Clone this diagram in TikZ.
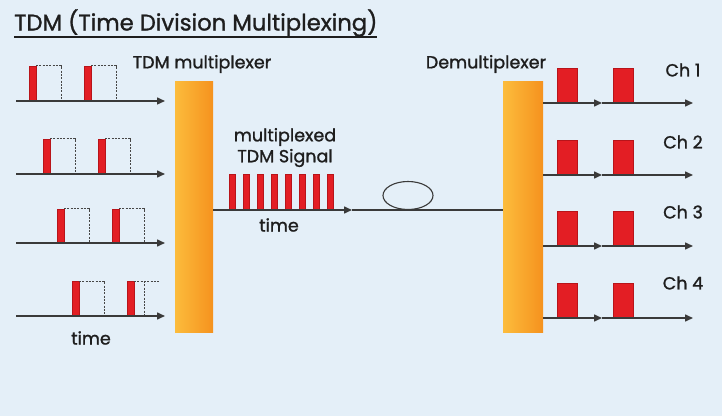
\documentclass[tikz,border=0pt]{standalone}
\usepackage{fontspec}
\setmainfont{Poppins}
\newfontfamily\lblfont[FakeBold=1.2]{Poppins}
\usetikzlibrary{arrows.meta,shapes.geometric}
\definecolor{bg}{HTML}{E4EFF8}
\definecolor{pulsered}{HTML}{E31E24}
\definecolor{pulseedge}{HTML}{B8141A}
\definecolor{barL}{HTML}{FCBC3C}
\definecolor{barR}{HTML}{F5921E}
\definecolor{axisgray}{HTML}{3A3A3A}
\definecolor{txt}{HTML}{1E1E1E}
\tikzset{
  axis/.style={draw=axisgray, line width=1.5pt, -{Triangle[length=8pt,width=7pt]}},
  plain/.style={draw=axisgray, line width=1.3pt},
  redpulse/.style={fill=pulsered, draw=pulseedge, line width=0.4pt},
  slot/.style={draw=gray!55!black, line width=1pt, dash pattern=on 2pt off 1.3pt},
  muxbar/.style={rectangle, inner sep=0pt, left color=barL, right color=barR, draw=none},
  lbl/.style={inner sep=0pt, text=txt, font=\lblfont\fontsize{17.5}{20}\selectfont},
}
\begin{document}
\begin{tikzpicture}[x=1pt,y=-1pt]
\useasboundingbox (0,0) rectangle (727,419);
\fill[white] (0,0) rectangle (727,419);
\fill[bg] (0,0) rectangle (722,416);

% title
\node[anchor=west, inner sep=0pt, text=txt, font=\lblfont\fontsize{22.7}{26}\selectfont] (title) at (14,23) {TDM (Time Division Multiplexing)};
\draw[txt, line width=1.3pt] (14,37) -- (377,37);

% bars
\node[muxbar, minimum width=38pt, minimum height=250pt] (mux) at (194,207) {};
\node[muxbar, minimum width=40pt, minimum height=250pt] (demux) at (523,207) {};
\node[lbl] (muxlbl) at (202,64) {TDM multiplexer};
\node[lbl] (demuxlbl) at (486,64) {Demultiplexer};

% left channels
\foreach \ay/\ty/\pa/\pb [count=\i] in {101/66/29/84, 174/139/43/98, 243/209/57/112, 316/281/72/127}{
  \coordinate (ls\i) at (16,\ay);
  \coordinate (le\i) at (165,\ay);
  \fill[redpulse] (\pa,\ay) rectangle ++(7,\ty-\ay);
}
\foreach \ay/\ty/\pa/\pb in {101/66/29/84, 174/139/43/98, 243/209/57/112}{
  \draw[slot] (\pa+7,\ty) -- (\pa+32,\ty) -- (\pa+32,\ay);
  \fill[redpulse] (\pb,\ay) rectangle ++(7,\ty-\ay);
  \draw[slot] (\pb+7,\ty) -- (\pb+32,\ty) -- (\pb+32,\ay);
}
\draw[slot] (79,281) -- (104,281) -- (104,316);
\fill[redpulse] (127,316) rectangle (134,281);
\draw[slot] (134,281) -- (160,281);
\draw[slot] (144,281) -- (144,316);
\foreach \i in {1,...,4}{ \draw[axis] (ls\i) -- (le\i); }
\node[lbl] (ltime) at (91,338) {time};

% multiplexed signal
\coordinate (mxend) at (352,210);
\foreach \k in {0,...,7}{
  \fill[redpulse] (229+14*\k,210) rectangle ++(6,-36);
}
\draw[axis] (mux.east |- mxend) -- (mxend);
\node[lbl] (mlbl1) at (285,137) {multiplexed};
\node[lbl] (mlbl2) at (285,158) {TDM Signal};
\node[lbl] (mtime) at (279,225) {time};

% fiber
\draw[plain, line width=1.1pt] (mxend) -- (demux.west |- mxend);
\node[ellipse, draw=axisgray, line width=1.1pt, minimum width=50pt, minimum height=28pt, inner sep=0pt] (coil) at (408,195.5) {};

% right channels
\foreach \ay/\ty [count=\i] in {103/68, 175/140, 246/211, 318/283}{
  \coordinate (rm\i) at (602,\ay);
  \coordinate (re\i) at (693,\ay);
  \fill[redpulse] (557,\ay) rectangle (577,\ty);
  \fill[redpulse] (613,\ay) rectangle (633,\ty);
  \draw[axis] (demux.east |- rm\i) -- (rm\i);
  \draw[axis] (rm\i) -- (re\i);
}
\node[lbl] (ch1) at (683,70) {Ch 1};
\node[lbl] (ch2) at (683,142) {Ch 2};
\node[lbl] (ch3) at (683,212) {Ch 3};
\node[lbl] (ch4) at (683,283) {Ch 4};
\end{tikzpicture}
\end{document}
